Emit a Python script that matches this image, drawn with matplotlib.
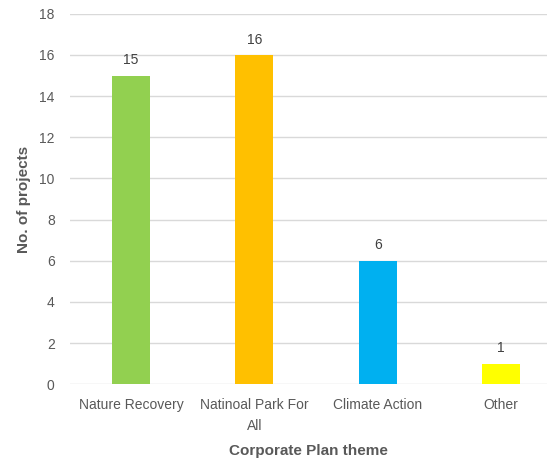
import matplotlib.pyplot as plt

themes = ["Nature Recovery", "Natinoal Park For\nAll", "Climate Action", "Other"]
projects = [15, 16, 6, 1]
colors = ["#92D050", "#FFC000", "#00B0F0", "#FFFF00"]
yticks = [0, 2, 4, 6, 8, 10, 12, 14, 16, 18]

plt.rcParams['font.family'] = ['Liberation Sans', 'DejaVu Sans']
text_col = "#595959"

fig = plt.figure(figsize=(5.47, 4.59), dpi=100)
ax = fig.add_axes([0.128, 0.163, 0.872, 0.807])

x = range(len(themes))
bars = ax.bar(x, projects, width=0.31, color=colors, zorder=3)
for b, v in zip(bars, projects):
    ax.annotate(str(v), (b.get_x() + b.get_width() / 2, v), xytext=(0, 6),
                textcoords="offset points", ha="center", va="bottom",
                fontsize=10, color="#404040")

ax.set_xlim(-0.495, 3.373)
ax.set_ylim(0, 18)
ax.set_yticks(yticks)
ax.set_xticks(list(x))
ax.set_xticklabels(themes, linespacing=1.6)
ax.grid(axis="y", color="#D9D9D9", linewidth=1, zorder=0)
for s in ["top", "right", "left", "bottom"]:
    ax.spines[s].set_visible(False)
ax.tick_params(length=0, labelsize=10, colors=text_col)
ax.tick_params(axis="y", pad=11)
ax.tick_params(axis="x", pad=10)
ax.set_xlabel("Corporate Plan theme", fontsize=11, fontweight="bold", color=text_col, labelpad=8)
ax.set_ylabel("No. of projects", fontsize=11, fontweight="bold", color=text_col, labelpad=6)

plt.savefig("out.png", dpi=100)
